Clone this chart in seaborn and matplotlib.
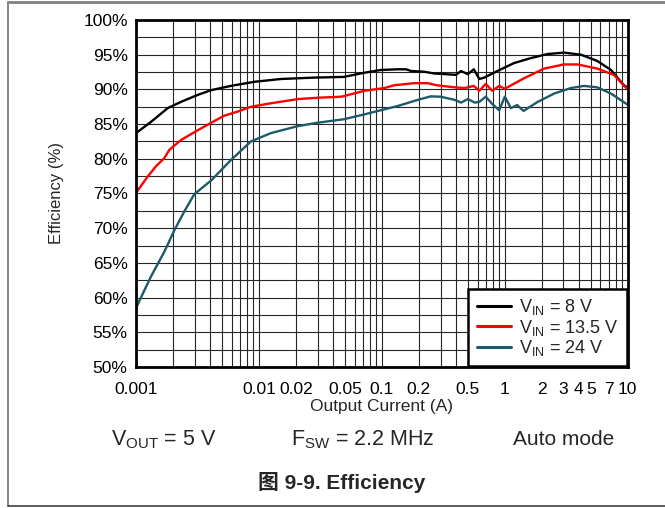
import numpy as np
import seaborn as sns
import matplotlib.pyplot as plt
import matplotlib.ticker as mticker
from matplotlib.lines import Line2D

# efficiency curves (current in A, efficiency in %)
i_8v = [0.001, 0.00132, 0.00181, 0.00232, 0.00317, 0.0041, 0.0059, 0.0092, 0.0151, 0.028,
        0.049, 0.072, 0.098, 0.134, 0.157, 0.173, 0.22, 0.265, 0.40, 0.44, 0.50, 0.56,
        0.62, 0.68, 0.87, 1.19, 1.62, 2.23, 3.03, 4.16, 5.65, 7.3, 9.3, 10]
eff_8v = [83.7, 85.3, 87.3, 88.2, 89.2, 89.9, 90.5, 91.1, 91.5, 91.7,
          91.8, 92.4, 92.8, 92.9, 92.9, 92.65, 92.55, 92.3, 92.1, 92.65, 92.2, 92.9,
          91.5, 91.7, 92.65, 93.8, 94.5, 95.1, 95.3, 95.0, 94.1, 92.8, 90.6, 90.3]

i_13v5 = [0.001, 0.00124, 0.00145, 0.0017, 0.00187, 0.00232, 0.00317, 0.0041, 0.0052, 0.0067,
          0.0086, 0.0125, 0.0206, 0.030, 0.047, 0.056, 0.072, 0.105, 0.126, 0.183, 0.235,
          0.28, 0.39, 0.47, 0.56, 0.62, 0.70, 0.79, 0.90, 1.0, 1.43, 2.09, 3.03, 3.9, 5.65,
          7.7, 9.6, 10]
eff_13v5 = [75.1, 77.4, 78.9, 80.1, 81.3, 82.7, 84.1, 85.2, 86.2, 86.8,
            87.5, 88.0, 88.6, 88.8, 88.95, 89.3, 89.8, 90.2, 90.6, 90.9, 90.9,
            90.6, 90.3, 90.2, 90.5, 89.8, 90.8, 89.8, 90.5, 90.1, 91.6, 93.0, 93.6, 93.6, 93.0,
            92.1, 90.3, 90.0]

i_24v = [0.001, 0.00132, 0.0017, 0.00205, 0.00247, 0.00298, 0.0041, 0.0059, 0.0086, 0.0125,
         0.0206, 0.030, 0.049, 0.072, 0.098, 0.134, 0.173, 0.206, 0.25, 0.30, 0.39, 0.44,
         0.50, 0.57, 0.62, 0.70, 0.79, 0.90, 1.0, 1.12, 1.26, 1.42, 1.85, 2.52, 3.45, 4.4,
         5.65, 7.3, 9.6, 10]
eff_24v = [58.5, 63.0, 66.6, 69.7, 72.4, 74.9, 76.9, 79.8, 82.5, 83.7,
           84.7, 85.2, 85.7, 86.4, 87.0, 87.6, 88.2, 88.6, 89.0, 88.95, 88.5, 88.1,
           88.6, 88.1, 88.2, 88.95, 87.9, 87.0, 88.95, 87.3, 87.75, 86.9, 88.2, 89.4, 90.2, 90.5,
           90.3, 89.4, 88.0, 87.8]

series_labels = [r'V$_{\mathregular{IN}}$ = 8 V',
                 r'V$_{\mathregular{IN}}$ = 13.5 V',
                 r'V$_{\mathregular{IN}}$ = 24 V']
series_colors = ['#000000', '#ff0000', '#1d5a6a']

x_ticks = [0.001, 0.01, 0.02, 0.05, 0.1, 0.2, 0.5, 1, 2, 3, 4, 5, 7, 10]
x_tick_labels = ['0.001', '0.01', '0.02', '0.05', '0.1', '0.2', '0.5', '1', '2', '3', '4', '5', '7', '10']
y_ticks = list(range(50, 101, 5))

sns.set_style('white')
plt.rcParams['font.family'] = ['Liberation Sans', 'Noto Sans CJK SC', 'DejaVu Sans']
plt.rcParams['mathtext.fontset'] = 'custom'
plt.rcParams['mathtext.rm'] = 'Liberation Sans'

fig = plt.figure(figsize=(6.65, 5.08), dpi=100)
ax = fig.add_axes([0.2045, 0.2776, 0.7395, 0.6830])

for xs, ys, lab, col in zip([i_8v, i_13v5, i_24v], [eff_8v, eff_13v5, eff_24v],
                            series_labels, series_colors):
    sns.lineplot(x=xs, y=ys, ax=ax, color=col, lw=1.7, label=lab, sort=False)

ax.set_xscale('log')
ax.set_xlim(0.001, 10)
ax.set_ylim(50, 100)

# grid on every log subdivision and every 2.5 %
ax.xaxis.set_major_locator(mticker.FixedLocator(x_ticks))
ax.xaxis.set_major_formatter(mticker.FixedFormatter(x_tick_labels))
ax.xaxis.set_minor_locator(mticker.LogLocator(base=10, subs=np.arange(1, 10)))
ax.xaxis.set_minor_formatter(mticker.NullFormatter())
ax.yaxis.set_major_locator(mticker.FixedLocator(y_ticks))
ax.yaxis.set_major_formatter(mticker.FuncFormatter(lambda v, p: f'{v:.0f}%'))
ax.yaxis.set_minor_locator(mticker.MultipleLocator(2.5))
ax.grid(True, which='both', color='0.15', lw=0.8)
ax.tick_params(which='both', length=0, labelsize=12.5, colors='black')
ax.tick_params(axis='x', pad=11)
ax.tick_params(axis='y', pad=6)

for s in ax.spines.values():
    s.set_visible(True)
    s.set_color('black')
    s.set_linewidth(2)

ax.set_xlabel('Output Current (A)', fontsize=12.5, labelpad=1)
ax.set_ylabel('Efficiency (%)', fontsize=12, labelpad=14)

leg = ax.legend(loc='lower right', fontsize=13, frameon=True, fancybox=False,
                edgecolor='black', borderaxespad=0.05, handlelength=1.9,
                handletextpad=0.45, labelspacing=0.02, borderpad=0.45)
leg.get_frame().set_linewidth(1.8)
leg.get_frame().set_alpha(1)
for h in leg.get_lines():
    h.set_linewidth(2.2)

fig.text(0.247, 0.134, r'V$_{\mathregular{OUT}}$ = 5 V', fontsize=15.5, ha='center', va='center')
fig.text(0.546, 0.134, r'F$_{\mathregular{SW}}$ = 2.2 MHz', fontsize=15.5, ha='center', va='center')
fig.text(0.847, 0.134, 'Auto mode', fontsize=15, ha='center', va='center')
fig.text(0.513, 0.051, '图 9-9. Efficiency', fontsize=15, fontweight='bold',
         ha='center', va='center', family=['Liberation Sans', 'Noto Sans CJK SC'])

# page frame
fig.add_artist(Line2D([8 / 665, 8 / 665], [2 / 508, 506 / 508], color='0.45', lw=1.2))
fig.add_artist(Line2D([8 / 665, 1], [506 / 508, 506 / 508], color='0.5', lw=2))
fig.add_artist(Line2D([8 / 665, 1], [2 / 508, 2 / 508], color='0.25', lw=1.2))

fig.savefig('out.png', dpi=100)
